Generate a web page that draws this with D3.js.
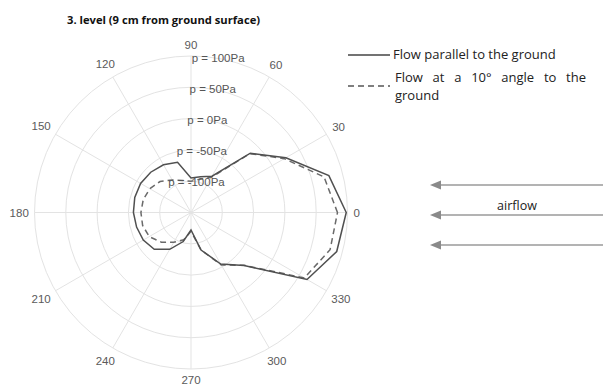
<!DOCTYPE html>
<html>
<head>
<meta charset="utf-8">
<script src="https://cdn.jsdelivr.net/npm/d3@7"></script>
<style>
  html, body { margin: 0; padding: 0; background: #fff; }
  svg { display: block; }
</style>
</head>
<body>
<svg id="chart" width="603" height="387"></svg>
<script>
// ---- data ----
const angles = [0, 15, 30, 45, 60, 75, 90, 105, 120, 135, 150, 165, 180, 195, 210, 225, 240, 255, 270, 285, 300, 315, 330, 345];
const parallelFlow = [98, 78, 25, -16, -83, -91, -95, -67, -62, -59, -57, -57, -58, -60, -62, -67, -82, -102, -122, -88, -55, -30, 64, 91];
const angledFlow   = [84, 70, 22, -17, -85, -95, -100, -97, -90, -80, -74, -71, -70, -70, -73, -83, -95, -105, -120, -88, -53, -31, 59, 80];
const radialTicks = [-100, -50, 0, 50, 100];
const radialTickLabels = ["p = -100Pa", "p = -50Pa", "p = 0Pa", "p = 50Pa", "p = 100Pa"];
const angleTicks = [0, 30, 60, 90, 120, 150, 180, 210, 240, 270, 300, 330];
const seriesNames = ["Flow parallel to the ground", "Flow at a 10° angle to the ground"];
const title = "3. level (9 cm from ground surface)";
const arrowLabel = "airflow";

// ---- layout ----
const svg = d3.select("#chart");
const cx = 191, cy = 212.5, R = 156.5;
const r = d3.scaleLinear().domain([-150, 100]).range([0, R]);
const rad = d => d * Math.PI / 180;
const px = (deg, rr) => cx + rr * Math.cos(rad(deg));
const py = (deg, rr) => cy - rr * Math.sin(rad(deg));

const g = svg.append("g");
const gridColor = "#e3e3e3";

// rings
g.selectAll("circle.ring").data(radialTicks).join("circle")
  .attr("cx", cx).attr("cy", cy).attr("r", d => r(d))
  .attr("fill", "none").attr("stroke", gridColor).attr("stroke-width", 1);

// spokes
g.selectAll("line.spoke").data(angleTicks).join("line")
  .attr("x1", cx).attr("y1", cy)
  .attr("x2", d => px(d, R)).attr("y2", d => py(d, R))
  .attr("stroke", gridColor).attr("stroke-width", 1);

// angle labels
const labFont = "'Liberation Sans', Arial, sans-serif";
const labOff = d => 6 + Math.abs(Math.cos(rad(d))) * String(d).length * 3.1 + Math.abs(Math.sin(rad(d))) * 5;
g.selectAll("text.ang").data(angleTicks).join("text")
  .attr("x", d => px(d, R + labOff(d)))
  .attr("y", d => py(d, R + labOff(d)))
  .attr("text-anchor", "middle").attr("dominant-baseline", "central")
  .attr("font-family", labFont).attr("font-size", 11.5).attr("fill", "#5a5a5a")
  .text(d => d);

// series lines
const line = d3.lineRadial().curve(d3.curveLinearClosed)
  .angle(d => Math.PI / 2 - rad(d[0]))
  .radius(d => r(d[1]));

const lines = g.append("g").attr("transform", `translate(${cx},${cy})`);
lines.append("path")
  .attr("d", line(angles.map((a, i) => [a, angledFlow[i]])))
  .attr("fill", "none").attr("stroke", "#6a6a6a").attr("stroke-width", 1.5)
  .attr("stroke-dasharray", "6,4");
lines.append("path")
  .attr("d", line(angles.map((a, i) => [a, parallelFlow[i]])))
  .attr("fill", "none").attr("stroke", "#505050").attr("stroke-width", 1.5);

// radial tick labels at 80 deg
g.selectAll("text.rl").data(radialTicks).join("text")
  .attr("x", d => px(80, r(d))).attr("y", d => py(80, r(d)))
  .attr("text-anchor", "middle").attr("dominant-baseline", "central")
  .attr("font-family", labFont).attr("font-size", 11.5).attr("fill", "#555")
  .text((d, i) => radialTickLabels[i]);

// title
svg.append("text").attr("x", 67).attr("y", 19)
  .attr("dominant-baseline", "central")
  .attr("font-family", "'Open Sans', sans-serif").attr("font-weight", "bold")
  .attr("font-size", 11.2).attr("fill", "#111").text(title);

// legend
const legFont = "'Open Sans', sans-serif";
const legSize = 13;
const leg = svg.append("g");
leg.append("line").attr("x1", 348).attr("x2", 390).attr("y1", 55).attr("y2", 55)
  .attr("stroke", "#444").attr("stroke-width", 1.3);
leg.append("text").attr("x", 393).attr("y", 54).attr("dominant-baseline", "central")
  .attr("font-family", legFont).attr("font-size", legSize).attr("fill", "#222")
  .text(seriesNames[0]);
leg.append("line").attr("x1", 348).attr("x2", 390).attr("y1", 86).attr("y2", 86)
  .attr("stroke", "#555").attr("stroke-width", 1.3).attr("stroke-dasharray", "6,4");
const words = seriesNames[1].split(" ");
const line1 = words.slice(0, words.length - 1).join(" ");
const line2 = words[words.length - 1];
const t1 = leg.append("text").attr("x", 395).attr("y", 77).attr("dominant-baseline", "central")
  .attr("font-family", legFont).attr("font-size", legSize).attr("fill", "#222")
  .text(line1);
const natural = t1.node().getComputedTextLength();
const gaps = line1.split(" ").length - 1;
t1.attr("word-spacing", Math.max(0, (191 - natural) / gaps));
leg.append("text").attr("x", 395).attr("y", 95).attr("dominant-baseline", "central")
  .attr("font-family", legFont).attr("font-size", legSize).attr("fill", "#222")
  .text(line2);

// airflow arrows
const arrowY = [185, 215, 245];
const arr = svg.append("g");
arr.selectAll("line").data(arrowY).join("line")
  .attr("x1", 603).attr("x2", 438).attr("y1", d => d).attr("y2", d => d)
  .attr("stroke", "#9a9a9a").attr("stroke-width", 1.5);
arr.selectAll("path").data(arrowY).join("path")
  .attr("d", d => `M430,${d} L441,${d - 4.5} L441,${d + 4.5} Z`)
  .attr("fill", "#8a8a8a");
svg.append("text").attr("x", 517).attr("y", 205)
  .attr("text-anchor", "middle").attr("dominant-baseline", "central")
  .attr("font-family", legFont).attr("font-size", 12.5).attr("fill", "#222")
  .text(arrowLabel);
</script>
</body>
</html>
